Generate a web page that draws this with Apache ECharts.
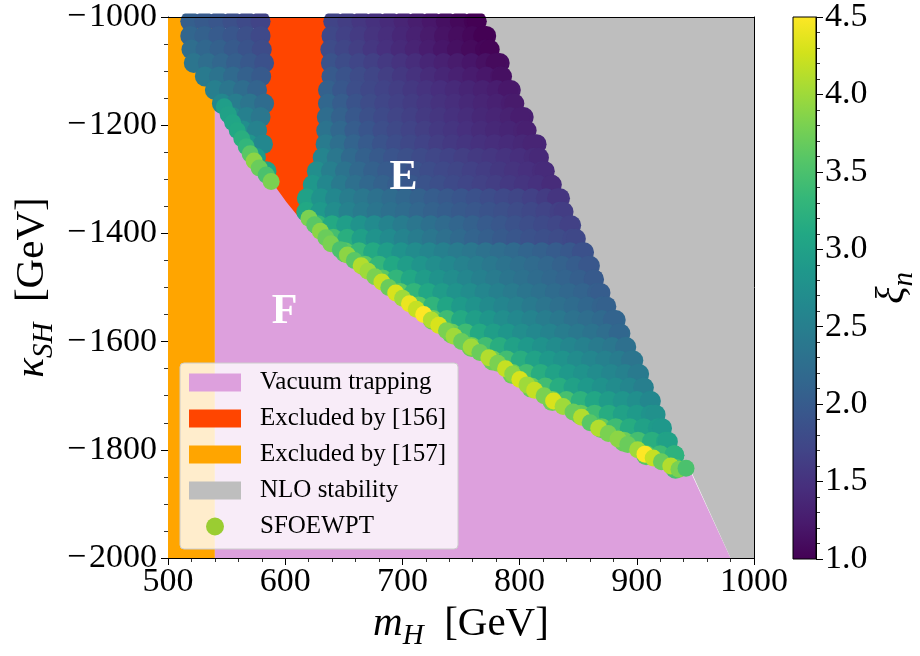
<!DOCTYPE html>
<html><head><meta charset="utf-8">
<script src="https://cdn.jsdelivr.net/npm/echarts@6/dist/echarts.min.js"></script>
<style>html,body{margin:0;padding:0;background:#fff}#c{width:920px;height:656px}</style>
</head><body><div id="c"></div>
<script>
// ---------- tick labels ----------
const xTicks = [500, 600, 700, 800, 900, 1000];
const yTicks = [-2000, -1800, -1600, -1400, -1200, -1000];
const cbTicks = [1.0, 1.5, 2.0, 2.5, 3.0, 3.5, 4.0, 4.5];

// ---------- shaded regions (m_H, kappa_SH) ----------
const orangeRegion = [[500,-1000],[540,-1000],[540,-2000],[500,-2000]];
const redRegion = [[577,-1000],[643,-1000],[641,-1100],[638,-1180],[636,-1240],[628,-1290],[620,-1330],[613,-1362],[608,-1378],[598,-1345],[590,-1316],[583,-1270],[577,-1220],[576,-1150],[577,-1000]];
const pinkRegion = [[540,-1150],[557,-1210],[568,-1252],[585,-1295],[593,-1318],[601,-1342],[610,-1366],[632,-1411],[661,-1460],[704,-1533],[746,-1598],[775,-1637],[800,-1678],[830,-1715],[857,-1752],[897,-1800],[920,-1822],[946,-1841],[980,-2000],[540,-2000]];
const grayRegion = [[758,-1000],[1000,-1000],[1000,-2000],[980,-2000],[946.6,-1841],[935,-1841]];

// ---------- scan points: rows of kappa_SH, xi_n read along each row (m_H step 12 GeV) ----------
const rowY = [-1008,-1035,-1060,-1085,-1110,-1135,-1160,-1185,-1210,-1235,-1260,-1285,-1310,-1335,-1360,-1385,-1410,-1435,-1460,-1485,-1510,-1535,-1560,-1585,-1610,-1635,-1660,-1685,-1710,-1735,-1760,-1785,-1810,-1835];
const blobStart = [519,519,520,522,531.5,540,546,555,564,569,575,584];
const blobXi = [
  [2.05,1.99,1.93,1.86,1.78,1.70],
  [2.14,2.07,2.00,1.93,1.85,1.77],
  [2.25,2.16,2.07,1.98,1.90,1.80],
  [2.35,2.25,2.15,2.05,1.96,1.87],
  [2.43,2.32,2.20,2.08,1.98],
  [2.50,2.37,2.24,2.12],
  [2.62,2.48,2.35,2.22],
  [2.68,2.52,2.38],
  [2.72,2.55],
  [2.82,2.62],
  [2.90],
  [3.00]
];
const mainStart = [641,639.5,638.5,639,639.5,636.5,636.5,635.5,635,634.5,632,627,623.5,618.5,618,628,641,651,668,683,698,714,726,742,759,777,794,810,828,852,870,889,908,933];
const mainXi = [
  [1.70,1.63,1.56,1.49,1.42,1.35,1.28,1.21,1.14,1.07,1.02],
  [1.75,1.67,1.60,1.52,1.45,1.38,1.31,1.24,1.17,1.11,1.06,1.02],
  [1.80,1.72,1.64,1.56,1.48,1.41,1.34,1.27,1.20,1.14,1.09,1.05],
  [1.90,1.81,1.73,1.65,1.58,1.51,1.44,1.37,1.31,1.25,1.20,1.15,1.11],
  [1.98,1.89,1.80,1.72,1.64,1.57,1.50,1.43,1.37,1.31,1.26,1.21,1.17],
  [2.08,1.95,1.83,1.75,1.69,1.63,1.57,1.51,1.46,1.41,1.36,1.31,1.27,1.23],
  [2.16,2.02,1.89,1.80,1.73,1.67,1.61,1.55,1.50,1.45,1.40,1.35,1.31,1.27],
  [2.24,2.09,1.96,1.86,1.78,1.71,1.65,1.59,1.54,1.49,1.44,1.39,1.35,1.32,1.29],
  [2.33,2.17,2.03,1.92,1.83,1.76,1.70,1.64,1.58,1.53,1.48,1.43,1.39,1.36,1.33],
  [2.45,2.27,2.12,2.00,1.90,1.82,1.75,1.69,1.63,1.58,1.53,1.49,1.45,1.42,1.39,1.37],
  [2.58,2.38,2.20,2.07,1.98,1.91,1.85,1.79,1.74,1.69,1.64,1.59,1.55,1.51,1.47,1.43],
  [2.72,2.50,2.32,2.18,2.08,2.00,1.94,1.88,1.82,1.77,1.72,1.67,1.62,1.57,1.52,1.48,1.44],
  [2.85,2.62,2.43,2.28,2.17,2.09,2.02,1.96,1.90,1.84,1.78,1.73,1.68,1.63,1.58,1.53,1.49,1.45],
  [3.00,2.80,2.62,2.48,2.38,2.30,2.23,2.16,2.09,2.03,1.97,1.92,1.87,1.82,1.77,1.72,1.67,1.61,1.56],
  [3.10,2.88,2.70,2.55,2.44,2.36,2.29,2.22,2.15,2.09,2.04,1.99,1.94,1.90,1.85,1.80,1.75,1.70,1.65],
  [3.30,3.12,2.95,2.80,2.67,2.56,2.46,2.37,2.29,2.21,2.14,2.07,2.00,1.94,1.88,1.83,1.78,1.74,1.70],
  [3.45,3.20,2.97,2.80,2.67,2.56,2.46,2.37,2.28,2.20,2.12,2.05,1.99,1.93,1.88,1.84,1.80,1.77],
  [3.60,3.35,3.12,2.94,2.80,2.69,2.60,2.52,2.45,2.38,2.31,2.25,2.19,2.13,2.07,2.01,1.96,1.90],
  [3.60,3.32,3.10,2.94,2.82,2.72,2.63,2.55,2.47,2.40,2.33,2.27,2.21,2.15,2.09,2.03,1.97],
  [3.60,3.30,3.08,2.92,2.80,2.70,2.60,2.52,2.44,2.36,2.30,2.23,2.17,2.11,2.05,2.00],
  [3.60,3.30,3.08,2.92,2.80,2.70,2.60,2.52,2.44,2.36,2.30,2.23,2.17,2.11,2.05],
  [3.58,3.28,3.06,2.90,2.79,2.68,2.59,2.51,2.43,2.35,2.28,2.22,2.16,2.10],
  [3.70,3.40,3.12,2.96,2.84,2.72,2.64,2.56,2.48,2.40,2.31,2.25,2.19,2.14],
  [3.70,3.40,3.12,2.96,2.84,2.72,2.64,2.56,2.48,2.40,2.32,2.25,2.19],
  [3.72,3.42,3.18,3.00,2.88,2.78,2.69,2.60,2.53,2.45,2.38,2.31],
  [3.72,3.43,3.18,3.01,2.88,2.79,2.69,2.61,2.53,2.46,2.38],
  [3.72,3.43,3.18,3.01,2.88,2.79,2.69,2.61,2.53,2.46],
  [3.70,3.42,3.17,3.00,2.88,2.78,2.69,2.60,2.53],
  [3.75,3.48,3.25,3.07,2.93,2.82,2.73,2.65],
  [3.65,3.40,3.16,3.00,2.90,2.80],
  [3.65,3.40,3.16,3.00,2.90],
  [3.70,3.45,3.20,3.05],
  [3.60,3.40,3.30],
  [3.50]
];
const STEP = 12;

// ---------- points lining the NLO-stability boundary (one per row) ----------
const rimX  = [763.5,769,774.5,779.5,785,790,795.5,800.5,806,811,816.5,821.5,827,832,837.5,842.5,848,853,858.5,863.5,869,874,879.5,884.5,890,895,900.5,905.5,911,916,921.5,926.5,932];
const rimXi = [1.00,1.00,1.03,1.09,1.14,1.21,1.24,1.27,1.30,1.35,1.40,1.42,1.43,1.53,1.62,1.67,1.75,1.87,1.94,1.98,2.03,2.08,2.12,2.16,2.28,2.35,2.43,2.50,2.62,2.77,2.86,3.00,3.25];

// ---------- bright points along the vacuum-trapping boundary ----------
const edgeX  = [548,551.4,555.2,559.1,563,566.8,570.1,573.5,577.8,583.8,588,
  620.3,625.1,630,634.7,639,647,653,659,664.8,670.7,676.6,682.5,688.4,694.3,700.2,706,711.9,718.2,724.7,731.1,737.6,744.1,750.5,
  758.7,766.1,773.8,781.4,788,794.1,800.2,806.3,812.8,820.9,829,837.1,845.6,852.9,860.2,867.5,875.7,884,892.3,900.7,907,914,921,929,936,942];
const edgeY  = [-1166,-1180,-1195,-1210,-1225,-1240,-1253,-1266,-1279,-1292,-1304,
  -1372,-1384,-1396,-1408,-1419,-1430,-1440,-1450,-1460,-1470,-1480,-1490,-1500,-1510,-1520,-1530,-1540,-1550,-1560,-1570,-1580,-1590,-1600,
  -1610,-1620,-1630,-1640,-1650,-1660,-1670,-1680,-1690,-1700,-1710,-1720,-1730,-1740,-1750,-1760,-1770,-1780,-1790,-1800,-1808,-1815,-1822,-1830,-1836,-1834];
const edgeXi = [2.95,3.0,3.05,3.1,3.2,3.3,3.6,3.9,3.7,3.5,3.8,
  3.8,3.6,3.9,3.7,3.8,3.5,3.9,3.6,4.1,4.0,3.8,4.2,3.7,4.3,4.0,4.4,4.2,4.5,4.1,4.3,3.8,4.0,3.7,
  4.0,3.7,4.1,3.8,4.2,3.9,4.3,4.0,4.2,3.8,4.3,4.0,3.7,4.1,3.6,4.1,3.8,3.9,3.7,4.0,4.5,4.2,3.7,4.1,3.8,3.5];

const regionLabelText = ['E', 'F'];
const regionLabelX = [701, 599.5];
const regionLabelY = [-1297, -1546];

const viridis = ['#440154','#481a6c','#472f7d','#414487','#39568c','#31688e','#2a788e','#23888e','#1f988b','#22a884','#35b779','#54c568','#7ad151','#a5db36','#d2e21b','#fde725'];

// ---------- build data ----------
const gridPts = [];
rowY.forEach((y, r) => {
  if (r < blobXi.length) blobXi[r].forEach((v, i) => gridPts.push([blobStart[r] + STEP * i, y, v]));
  mainXi[r].forEach((v, i) => gridPts.push([mainStart[r] + STEP * i, y, v]));
  if (r < rimX.length) gridPts.push([rimX[r], y, rimXi[r]]);
});
const edgePts = edgeX.map((x, i) => [x, edgeY[i], edgeXi[i]]);

const SERIF = '"Liberation Serif","DejaVu Serif",serif';
function mathRich(size) {
  const sub = Math.round(size * 0.7);
  return {
    i: {fontFamily: SERIF, fontStyle: 'italic', fontSize: size, lineHeight: size + 4, padding: [0,0,6,0], verticalAlign: 'bottom', color: '#000'},
    s: {fontFamily: SERIF, fontStyle: 'italic', fontSize: sub, lineHeight: sub, verticalAlign: 'bottom', color: '#000'},
    r: {fontFamily: SERIF, fontSize: size, lineHeight: size + 4, padding: [0,0,6,0], verticalAlign: 'bottom', color: '#000'}
  };
}
const minusFmt = v => (v < 0 ? '\u2212\u200a' + Math.abs(v) : String(v));

function polySeries(name, pts, color) {
  return {
    type: 'custom', name, xAxisIndex: 0, yAxisIndex: 0, silent: true, clip: true,
    itemStyle: {color}, data: [0],
    renderItem: (params, api) => ({type: 'polygon', shape: {points: pts.map(p => api.coord(p))}, style: {fill: color}})
  };
}
function dotSeries(pts, radius) {
  return {
    type: 'custom', name: 'SFOEWPT', xAxisIndex: 0, yAxisIndex: 0, silent: true,
    dimensions: ['mH', 'kSH', 'xi'], encode: {x: 0, y: 1},
    itemStyle: {color: '#9acd32'}, data: pts,
    renderItem: (params, api) => {
      const p = api.coord([api.value(0), api.value(1)]);
      return {type: 'circle', shape: {cx: p[0], cy: p[1], r: radius}, style: {fill: api.visual('color'), opacity: 1}};
    }
  };
}

const axisBase = {
  axisLine: {show: true, onZero: false, lineStyle: {color: '#000', width: 1}},
  axisTick: {show: true, inside: false, length: 7, lineStyle: {color: '#000', width: 1}},
  minorTick: {show: true, length: 4, lineStyle: {color: '#000', width: 0.8}},
  splitLine: {show: false}, minorSplitLine: {show: false}
};

const option = {
  animation: false,
  backgroundColor: '#fff',
  grid: [
    {left: 168, top: 14, width: 586, height: 545},
    {left: 793, top: 14, width: 27, height: 545}
  ],
  xAxis: [
    Object.assign({}, axisBase, {
      type: 'value', gridIndex: 0, position: 'bottom',
      min: xTicks[0], max: xTicks[xTicks.length - 1], interval: xTicks[1] - xTicks[0],
      minorTick: Object.assign({}, axisBase.minorTick, {splitNumber: 5}),
      axisLabel: {fontFamily: SERIF, fontSize: 34, color: '#000', margin: 7, formatter: v => String(v), showMinLabel: true, showMaxLabel: true, hideOverlap: false},
      name: '{i|m}{s|H}{r|  [GeV]}', nameLocation: 'middle', nameGap: 48, nameMoveOverlap: false,
      nameTextStyle: {rich: mathRich(41)}
    }),
    {type: 'value', gridIndex: 0, position: 'top', min: 500, max: 1000, z: 50,
     axisLine: {show: true, onZero: false, lineStyle: {color: '#000', width: 1}},
     axisTick: {show: false}, axisLabel: {show: false}, splitLine: {show: false}},
    {type: 'value', gridIndex: 1, min: 0, max: 1, show: false}
  ],
  yAxis: [
    Object.assign({}, axisBase, {
      type: 'value', gridIndex: 0, position: 'left',
      min: yTicks[0], max: yTicks[yTicks.length - 1], interval: yTicks[1] - yTicks[0],
      minorTick: Object.assign({}, axisBase.minorTick, {splitNumber: 4}),
      axisLabel: {fontFamily: SERIF, fontSize: 34, color: '#000', margin: 11, formatter: minusFmt, showMinLabel: true, showMaxLabel: true},
      name: '{i|κ}{s|SH}{r|  [GeV]}', nameLocation: 'middle', nameGap: 109, nameRotate: 90, nameMoveOverlap: false,
      nameTextStyle: {rich: mathRich(41)}
    }),
    {type: 'value', gridIndex: 0, position: 'right', min: -2000, max: -1000, z: 50,
     axisLine: {show: true, onZero: false, lineStyle: {color: '#000', width: 1}},
     axisTick: {show: false}, axisLabel: {show: false}, splitLine: {show: false}},
    Object.assign({}, axisBase, {
      type: 'value', gridIndex: 1, position: 'right',
      min: cbTicks[0], max: cbTicks[cbTicks.length - 1], interval: cbTicks[1] - cbTicks[0],
      minorTick: Object.assign({}, axisBase.minorTick, {splitNumber: 5}),
      axisLabel: {fontFamily: SERIF, fontSize: 34, color: '#000', margin: 9, formatter: v => v.toFixed(1), showMinLabel: true, showMaxLabel: true},
      name: '{i|ξ}{s|n}', nameLocation: 'middle', nameGap: 58, nameRotate: 90, nameMoveOverlap: false,
      nameTextStyle: {rich: mathRich(41)}
    })
  ],
  visualMap: {
    type: 'continuous', show: false, min: cbTicks[0], max: cbTicks[cbTicks.length - 1],
    dimension: 2, seriesIndex: [4, 5], inRange: {color: viridis}
  },
  legend: {
    orient: 'vertical', left: 180, top: 363, padding: [6, 12, 9, 9], itemGap: 9,
    itemWidth: 52, itemHeight: 18, selectedMode: false,
    backgroundColor: 'rgba(255,255,255,0.8)', borderColor: '#cccccc', borderWidth: 1, borderRadius: 4,
    textStyle: {fontFamily: SERIF, fontSize: 25, color: '#000', lineHeight: 27, padding: [0, 0, 0, 14]},
    data: [
      {name: 'Vacuum trapping', icon: 'rect', itemStyle: {color: '#dda0dd'}},
      {name: 'Excluded by [156]', icon: 'rect', itemStyle: {color: '#ff4500'}},
      {name: 'Excluded by [157]', icon: 'rect', itemStyle: {color: '#ffa500'}},
      {name: 'NLO stability', icon: 'rect', itemStyle: {color: '#bebebe'}},
      {name: 'SFOEWPT', icon: 'circle', itemStyle: {color: '#9acd32'}}
    ]
  },
  graphic: [
    {type: 'rect', left: 160, top: 0, shape: {width: 600, height: 13.5}, style: {fill: '#fff'}, z: 100, silent: true}
  ],
  series: [
    polySeries('Excluded by [157]', orangeRegion, '#ffa500'),
    polySeries('Excluded by [156]', redRegion, '#ff4500'),
    polySeries('Vacuum trapping', pinkRegion, '#dda0dd'),
    polySeries('NLO stability', grayRegion, '#bebebe'),
    dotSeries(gridPts, 10),
    dotSeries(edgePts, 8.5),
    {type: 'custom', name: 'labels', xAxisIndex: 0, yAxisIndex: 0, silent: true, z: 5,
     data: regionLabelX.map((x, i) => [x, regionLabelY[i]]),
     renderItem: (params, api) => {
       const p = api.coord([api.value(0), api.value(1)]);
       return {type: 'text', x: p[0], y: p[1], style: {text: regionLabelText[params.dataIndex], fill: '#fff',
         font: 'bold 42px "Liberation Serif"', align: 'center', verticalAlign: 'middle'}};
     }},
    {type: 'custom', name: 'colorbar', xAxisIndex: 2, yAxisIndex: 2, silent: true,
     data: [[0, cbTicks[0], cbTicks[cbTicks.length - 1]]],
     renderItem: (params, api) => {
       const p0 = api.coord([0, api.value(1)]);
       const p1 = api.coord([1, api.value(2)]);
       return {type: 'rect', shape: {x: p0[0], y: p1[1], width: p1[0] - p0[0], height: p0[1] - p1[1]},
         style: {fill: {type: 'linear', x: 0, y: 1, x2: 0, y2: 0,
           colorStops: viridis.map((c, i) => ({offset: i / (viridis.length - 1), color: c}))},
           stroke: '#000', lineWidth: 1}};
     }}
  ]
};
const chart = echarts.init(document.getElementById('c'));
chart.setOption(option);
</script>
</body></html>
